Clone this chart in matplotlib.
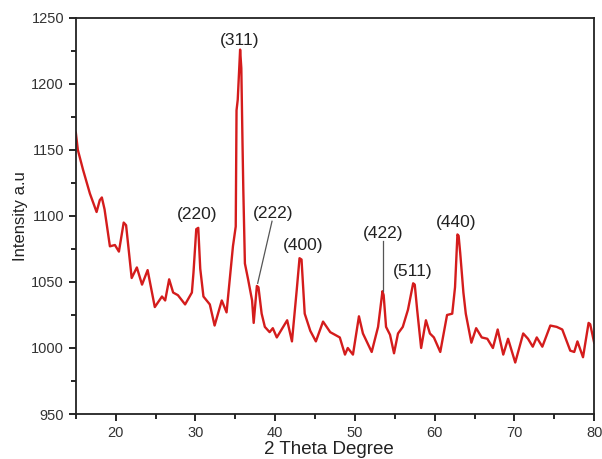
import matplotlib
matplotlib.use("Agg")
import matplotlib.pyplot as plt
from matplotlib.ticker import MultipleLocator

two_theta = [15.0, 15.25, 15.9, 16.76, 17.6, 18.0, 18.26, 18.6, 19.27, 19.9, 20.4, 21.0, 21.3, 22.0,
             22.65, 23.3, 24.0, 24.9, 25.8, 26.2, 26.7, 27.2, 27.8, 28.7, 29.55, 29.75, 30.1, 30.35,
             30.6, 31.0, 31.8, 32.4, 33.3, 33.9, 34.7, 35.05, 35.15, 35.3, 35.6, 35.75, 35.9, 36.0,
             36.2, 36.6, 37.1, 37.3, 37.7, 37.9, 38.3, 38.7, 39.3, 39.7, 40.2, 40.8, 41.5, 42.1,
             42.7, 43.05, 43.3, 43.7, 44.4, 45.1, 46.0, 46.9, 47.5, 48.1, 48.75, 49.1, 49.75, 50.5,
             51.0, 52.1, 52.9, 53.45, 53.6, 53.9, 54.4, 54.9, 55.4, 56.0, 56.65, 57.3, 57.5, 57.8,
             58.3, 58.9, 59.4, 59.9, 60.7, 61.55, 62.2, 62.55, 62.85, 63.0, 63.2, 63.6, 63.9, 64.6,
             65.2, 65.9, 66.6, 67.3, 67.9, 68.6, 69.2, 70.1, 71.1, 71.7, 72.3, 72.8, 73.5, 74.5,
             75.3, 76.0, 77.0, 77.5, 77.9, 78.6, 79.3, 79.5, 80.0]
intensity = [1163, 1150, 1135, 1117, 1103, 1112, 1114, 1105, 1077, 1078, 1073, 1095, 1093, 1053,
             1061, 1048, 1059, 1031, 1039, 1036, 1052, 1042, 1040, 1033, 1042, 1057, 1090, 1091,
             1060, 1039, 1033, 1017, 1036, 1027, 1077, 1092, 1180, 1188, 1226, 1212, 1155, 1120,
             1064, 1052, 1036, 1019, 1047, 1046, 1026, 1016, 1012, 1015, 1008, 1014, 1021, 1005,
             1044, 1068, 1067, 1026, 1013, 1005, 1020, 1012, 1010, 1008, 995, 1000, 995, 1024,
             1011, 997, 1016, 1043, 1040, 1016, 1010, 996, 1011, 1016, 1029, 1049, 1048, 1029,
             1000, 1021, 1011, 1008, 997, 1025, 1026, 1046, 1086, 1085, 1072, 1042, 1026, 1004,
             1015, 1008, 1007, 1000, 1014, 995, 1007, 989, 1011, 1007, 1001, 1008, 1001, 1017,
             1016, 1014, 998, 997, 1005, 993, 1019, 1018, 1004]

peak_labels = ["(311)", "(220)", "(222)", "(400)", "(422)", "(511)", "(440)"]
label_x = [35.5, 30.2, 39.7, 43.5, 53.5, 57.3, 62.7]
label_y = [1233, 1101, 1102, 1078, 1087, 1058, 1095]
# leader lines: (label end) -> (peak)
leader_from = [(39.6, 1096), (53.5, 1081)]
leader_to = [(37.8, 1049), (53.5, 1043)]

plt.rcParams['font.family'] = ['Liberation Sans', 'DejaVu Sans']

fig = plt.figure(figsize=(6.02, 4.59), dpi=100)
ax = fig.add_axes([0.126, 0.098, 0.861, 0.863])

ax.plot(two_theta, intensity, color='#d41c1c', lw=1.7, solid_joinstyle='round')

for t, x, y in zip(peak_labels, label_x, label_y):
    ax.text(x, y, t, ha='center', va='center', fontsize=12.5, color='#222222')
for (x0, y0), (x1, y1) in zip(leader_from, leader_to):
    ax.plot([x0, x1], [y0, y1], color='#555555', lw=0.9)

ax.set_xlim(15, 80)
ax.set_ylim(950, 1250)
ax.xaxis.set_major_locator(MultipleLocator(10))
ax.xaxis.set_minor_locator(MultipleLocator(5))
ax.yaxis.set_major_locator(MultipleLocator(50))
ax.yaxis.set_minor_locator(MultipleLocator(25))
ax.tick_params(which='major', direction='out', length=5, width=1.2, labelsize=10.5,
               labelcolor='#333333', top=False, right=False)
ax.tick_params(which='minor', direction='out', length=3.5, width=1.2, top=False, right=False)
for s in ax.spines.values():
    s.set_linewidth(1.3)
    s.set_color('#222222')

ax.set_xlabel('2 Theta Degree', fontsize=13.5, color='#222222', labelpad=0)
ax.xaxis.set_label_coords(0.489, -0.068)
ax.set_ylabel('Intensity a.u', fontsize=12, color='#222222', labelpad=2)

fig.savefig('out.png', dpi=100)
